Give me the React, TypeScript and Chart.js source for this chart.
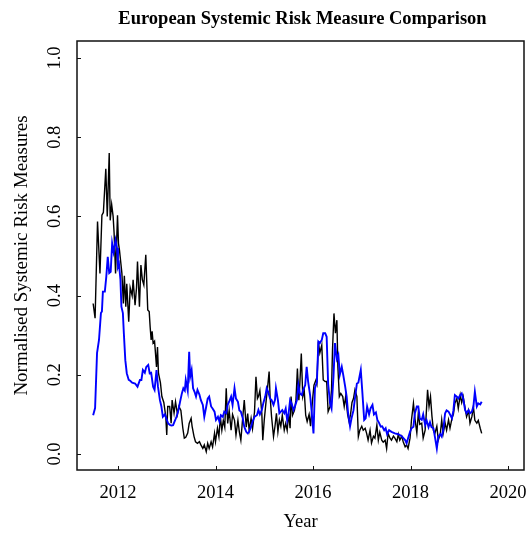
import React, { useEffect, useRef } from "react";
import { Chart, registerables } from "chart.js";

Chart.register(...registerables);

const chartTitle = "European Systemic Risk Measure Comparison";
const xAxisTitle = "Year";
const yAxisTitle = "Normalised Systemic Risk Measures";

const xTicks = [2012, 2014, 2016, 2018, 2020];
const yTicks = [0, 0.2, 0.4, 0.6, 0.8, 1.0];

const blackYears = [
  2011.49, 2011.53, 2011.58, 2011.63, 2011.67, 2011.70, 2011.75, 2011.78, 2011.82, 2011.84,
  2011.87, 2011.90, 2011.92, 2011.95, 2011.99, 2012.01, 2012.03, 2012.06, 2012.08, 2012.11,
  2012.13, 2012.16, 2012.18, 2012.22, 2012.25, 2012.29, 2012.31, 2012.35, 2012.38, 2012.40,
  2012.44, 2012.47, 2012.50, 2012.53, 2012.57, 2012.61, 2012.64, 2012.66, 2012.68, 2012.70,
  2012.72, 2012.75, 2012.79, 2012.81, 2012.83, 2012.87, 2012.90, 2012.94, 2012.98, 2013.00,
  2013.02, 2013.06, 2013.09, 2013.11, 2013.15, 2013.18, 2013.22, 2013.25, 2013.29, 2013.33,
  2013.36, 2013.39, 2013.43, 2013.46, 2013.50, 2013.52, 2013.56, 2013.59, 2013.63, 2013.67,
  2013.70, 2013.74, 2013.77, 2013.81, 2013.84, 2013.87, 2013.91, 2013.94, 2013.98, 2014.00,
  2014.04, 2014.07, 2014.10, 2014.13, 2014.16, 2014.19, 2014.22, 2014.25, 2014.28, 2014.32,
  2014.35, 2014.39, 2014.42, 2014.46, 2014.49, 2014.52, 2014.56, 2014.59, 2014.63, 2014.66,
  2014.69, 2014.73, 2014.76, 2014.80, 2014.83, 2014.86, 2014.88, 2014.91, 2014.95, 2014.97,
  2015.00, 2015.04, 2015.07, 2015.10, 2015.12, 2015.15, 2015.19, 2015.22, 2015.25, 2015.28,
  2015.31, 2015.34, 2015.37, 2015.41, 2015.44, 2015.47, 2015.50, 2015.53, 2015.55, 2015.58,
  2015.62, 2015.65, 2015.68, 2015.71, 2015.73, 2015.76, 2015.79, 2015.82, 2015.85, 2015.88,
  2015.92, 2015.95, 2015.99, 2016.02, 2016.06, 2016.08, 2016.11, 2016.14, 2016.18, 2016.21,
  2016.25, 2016.28, 2016.31, 2016.35, 2016.38, 2016.40, 2016.43, 2016.46, 2016.49, 2016.51,
  2016.54, 2016.57, 2016.61, 2016.64, 2016.67, 2016.71, 2016.74, 2016.77, 2016.80, 2016.83,
  2016.86, 2016.90, 2016.93, 2016.96, 2017.00, 2017.03, 2017.07, 2017.10, 2017.13, 2017.17,
  2017.20, 2017.24, 2017.27, 2017.31, 2017.34, 2017.37, 2017.41, 2017.44, 2017.48, 2017.51,
  2017.54, 2017.58, 2017.61, 2017.65, 2017.68, 2017.72, 2017.75, 2017.78, 2017.82, 2017.85,
  2017.89, 2017.92, 2017.95, 2017.99, 2018.02, 2018.06, 2018.09, 2018.13, 2018.16, 2018.19,
  2018.23, 2018.26, 2018.30, 2018.32, 2018.35, 2018.38, 2018.41, 2018.44, 2018.47, 2018.50,
  2018.54, 2018.57, 2018.61, 2018.64, 2018.67, 2018.71, 2018.74, 2018.78, 2018.81, 2018.85,
  2018.88, 2018.91, 2018.95, 2018.98, 2019.02, 2019.05, 2019.08, 2019.12, 2019.15, 2019.19,
  2019.22, 2019.26, 2019.29, 2019.32, 2019.36, 2019.39, 2019.43, 2019.46,
];

const blackValues = [
  0.38, 0.343, 0.587, 0.456, 0.603, 0.61, 0.72, 0.60, 0.76, 0.59,
  0.63, 0.60, 0.558, 0.456, 0.603, 0.532, 0.515, 0.48, 0.456, 0.38,
  0.45, 0.372, 0.43, 0.334, 0.42, 0.40, 0.44, 0.376, 0.42, 0.486,
  0.372, 0.477, 0.44, 0.427, 0.503, 0.364, 0.36, 0.32, 0.288, 0.31,
  0.28, 0.285, 0.22, 0.27, 0.204, 0.18, 0.145, 0.13, 0.094, 0.048,
  0.12, 0.12, 0.078, 0.136, 0.103, 0.132, 0.10, 0.12, 0.11, 0.065,
  0.04, 0.042, 0.053, 0.077, 0.09, 0.07, 0.044, 0.031, 0.027, 0.031,
  0.023, 0.014, 0.023, 0.006, 0.027, 0.014, 0.031, 0.018, 0.052, 0.031,
  0.065, 0.044, 0.094, 0.06, 0.085, 0.068, 0.166, 0.077, 0.11, 0.06,
  0.10, 0.085, 0.048, 0.085, 0.055, 0.035, 0.094, 0.136, 0.068, 0.102,
  0.06, 0.09, 0.064, 0.106, 0.195, 0.14, 0.145, 0.16, 0.103, 0.035,
  0.086, 0.136, 0.17, 0.208, 0.145, 0.094, 0.044, 0.07, 0.103, 0.056,
  0.086, 0.07, 0.098, 0.06, 0.077, 0.06, 0.103, 0.065, 0.145, 0.098,
  0.11, 0.136, 0.216, 0.136, 0.178, 0.254, 0.145, 0.16, 0.098, 0.082,
  0.10, 0.07, 0.136, 0.174, 0.187, 0.178, 0.284, 0.255, 0.275, 0.187,
  0.183, 0.183, 0.107, 0.12, 0.162, 0.263, 0.355, 0.305, 0.338, 0.22,
  0.145, 0.153, 0.145, 0.12, 0.145, 0.10, 0.082, 0.10, 0.13, 0.14,
  0.162, 0.145, 0.044, 0.06, 0.07, 0.06, 0.065, 0.052, 0.035, 0.06,
  0.028, 0.045, 0.04, 0.073, 0.035, 0.055, 0.035, 0.03, 0.035, 0.014,
  0.052, 0.04, 0.035, 0.045, 0.04, 0.031, 0.05, 0.035, 0.045, 0.031,
  0.018, 0.023, 0.014, 0.04, 0.086, 0.128, 0.09, 0.053, 0.103, 0.075,
  0.078, 0.04, 0.06, 0.095, 0.162, 0.12, 0.145, 0.095, 0.06, 0.052,
  0.07, 0.035, 0.05, 0.086, 0.052, 0.078, 0.06, 0.086, 0.065, 0.09,
  0.10, 0.128, 0.14, 0.115, 0.149, 0.13, 0.145, 0.115, 0.094, 0.11,
  0.078, 0.095, 0.12, 0.085, 0.078, 0.085, 0.065, 0.052,
];

const blueYears = [
  2011.49, 2011.53, 2011.57, 2011.61, 2011.65, 2011.67, 2011.69, 2011.73, 2011.76, 2011.79,
  2011.82, 2011.85, 2011.88, 2011.91, 2011.95, 2011.98, 2012.00, 2012.02, 2012.05, 2012.07,
  2012.10, 2012.12, 2012.15, 2012.18, 2012.22, 2012.25, 2012.29, 2012.35, 2012.40, 2012.45,
  2012.48, 2012.51, 2012.55, 2012.58, 2012.62, 2012.65, 2012.68, 2012.72, 2012.75, 2012.79,
  2012.82, 2012.86, 2012.89, 2012.92, 2012.96, 2012.99, 2013.03, 2013.07, 2013.10, 2013.13,
  2013.17, 2013.20, 2013.24, 2013.27, 2013.31, 2013.34, 2013.37, 2013.39, 2013.43, 2013.46,
  2013.48, 2013.51, 2013.54, 2013.57, 2013.60, 2013.63, 2013.67, 2013.70, 2013.74, 2013.77,
  2013.81, 2013.84, 2013.87, 2013.91, 2013.94, 2013.98, 2014.01, 2014.05, 2014.08, 2014.11,
  2014.15, 2014.18, 2014.22, 2014.25, 2014.28, 2014.32, 2014.35, 2014.39, 2014.42, 2014.46,
  2014.49, 2014.52, 2014.56, 2014.59, 2014.63, 2014.66, 2014.69, 2014.73, 2014.76, 2014.80,
  2014.85, 2014.88, 2014.91, 2014.95, 2014.98, 2015.02, 2015.05, 2015.08, 2015.12, 2015.15,
  2015.19, 2015.22, 2015.24, 2015.28, 2015.31, 2015.34, 2015.37, 2015.41, 2015.44, 2015.47,
  2015.50, 2015.53, 2015.56, 2015.60, 2015.63, 2015.67, 2015.70, 2015.73, 2015.77, 2015.80,
  2015.84, 2015.87, 2015.90, 2015.94, 2015.97, 2016.01, 2016.04, 2016.08, 2016.11, 2016.14,
  2016.18, 2016.21, 2016.25, 2016.28, 2016.31, 2016.35, 2016.38, 2016.42, 2016.45, 2016.49,
  2016.52, 2016.55, 2016.59, 2016.62, 2016.66, 2016.69, 2016.72, 2016.76, 2016.79, 2016.83,
  2016.86, 2016.90, 2016.93, 2016.98, 2017.01, 2017.05, 2017.08, 2017.11, 2017.15, 2017.18,
  2017.22, 2017.25, 2017.29, 2017.32, 2017.35, 2017.39, 2017.42, 2017.46, 2017.49, 2017.52,
  2017.56, 2017.61, 2017.68, 2017.75, 2017.82, 2017.89, 2017.92, 2017.95, 2017.99, 2018.02,
  2018.06, 2018.09, 2018.13, 2018.16, 2018.19, 2018.23, 2018.26, 2018.30, 2018.33, 2018.37,
  2018.40, 2018.43, 2018.47, 2018.50, 2018.54, 2018.57, 2018.61, 2018.64, 2018.67, 2018.71,
  2018.74, 2018.78, 2018.81, 2018.85, 2018.88, 2018.91, 2018.95, 2018.98, 2019.02, 2019.05,
  2019.08, 2019.12, 2019.15, 2019.19, 2019.22, 2019.26, 2019.29, 2019.32, 2019.36, 2019.39,
  2019.43, 2019.46,
];

const blueValues = [
  0.098, 0.116, 0.255, 0.288, 0.356, 0.36, 0.41, 0.41, 0.448, 0.498,
  0.457, 0.46, 0.532, 0.51, 0.54, 0.52, 0.473, 0.48, 0.44, 0.372,
  0.356, 0.305, 0.237, 0.204, 0.187, 0.185, 0.18, 0.178, 0.17, 0.187,
  0.187, 0.212, 0.205, 0.22, 0.225, 0.204, 0.205, 0.17, 0.162, 0.212,
  0.17, 0.136, 0.12, 0.094, 0.10, 0.09, 0.077, 0.073, 0.072, 0.073,
  0.085, 0.094, 0.111, 0.13, 0.153, 0.166, 0.16, 0.187, 0.16, 0.258,
  0.195, 0.212, 0.166, 0.157, 0.145, 0.162, 0.15, 0.136, 0.124, 0.094,
  0.12, 0.14, 0.145, 0.12, 0.115, 0.107, 0.086, 0.094, 0.082, 0.098,
  0.094, 0.107, 0.103, 0.124, 0.132, 0.145, 0.124, 0.166, 0.14, 0.132,
  0.11, 0.107, 0.09, 0.069, 0.056, 0.052, 0.056, 0.069, 0.082, 0.094,
  0.098, 0.111, 0.10, 0.111, 0.128, 0.145, 0.166, 0.157, 0.14, 0.136,
  0.124, 0.136, 0.166, 0.136, 0.103, 0.107, 0.111, 0.103, 0.115, 0.085,
  0.103, 0.136, 0.128, 0.111, 0.12, 0.136, 0.174, 0.153, 0.149, 0.162,
  0.174, 0.22, 0.183, 0.149, 0.111, 0.052, 0.166, 0.182, 0.284, 0.28,
  0.288, 0.305, 0.305, 0.296, 0.178, 0.128, 0.115, 0.195, 0.28, 0.24,
  0.25, 0.20, 0.22, 0.20, 0.17, 0.145, 0.103, 0.07, 0.09, 0.11,
  0.14, 0.178, 0.18, 0.212, 0.16, 0.086, 0.09, 0.12, 0.10, 0.115,
  0.124, 0.10, 0.105, 0.086, 0.08, 0.069, 0.07, 0.06, 0.065, 0.05,
  0.06, 0.056, 0.052, 0.05, 0.045, 0.035, 0.027, 0.04, 0.056, 0.065,
  0.069, 0.103, 0.12, 0.12, 0.09, 0.086, 0.10, 0.073, 0.085, 0.068,
  0.08, 0.068, 0.065, 0.044, 0.014, 0.044, 0.05, 0.044, 0.06, 0.103,
  0.11, 0.107, 0.10, 0.09, 0.11, 0.149, 0.145, 0.14, 0.149, 0.153,
  0.14, 0.111, 0.103, 0.111, 0.103, 0.107, 0.12, 0.157, 0.12, 0.128,
  0.125, 0.132,
];

const FONT = '"Liberation Serif", "DejaVu Serif", serif';
const FONT_SIZE = 18.5;

function toPoints(xs: number[], ys: number[]) {
  const n = Math.min(xs.length, ys.length);
  const out: { x: number; y: number }[] = [];
  for (let i = 0; i < n; i++) out.push({ x: xs[i], y: ys[i] });
  return out;
}

export default function App() {
  const ref = useRef<HTMLCanvasElement>(null);

  useEffect(() => {
    document.body.style.margin = "0";
    const canvas = ref.current;
    if (!canvas) return;

    const framePlugin = {
      id: "rframe",
      afterDraw(chart: any) {
        const { ctx, chartArea: a, scales } = chart;
        const xs = scales.x;
        const ys = scales.y;
        ctx.save();
        ctx.strokeStyle = "#111";
        ctx.lineWidth = 1.5;
        ctx.strokeRect(a.left, a.top, a.right - a.left, a.bottom - a.top);

        ctx.lineWidth = 1;
        ctx.beginPath();
        xTicks.forEach((t) => {
          const px = Math.round(xs.getPixelForValue(t)) + 0.5;
          ctx.moveTo(px, a.bottom);
          ctx.lineTo(px, a.bottom - 4);
        });
        yTicks.forEach((t) => {
          const py = Math.round(ys.getPixelForValue(t)) + 0.5;
          ctx.moveTo(a.left, py);
          ctx.lineTo(a.left + 4, py);
        });
        ctx.stroke();

        ctx.fillStyle = "#000";
        ctx.font = `${FONT_SIZE}px ${FONT}`;
        ctx.textAlign = "center";
        ctx.textBaseline = "alphabetic";
        xTicks.forEach((t) => {
          ctx.fillText(String(t), xs.getPixelForValue(t), 498);
        });
        yTicks.forEach((t) => {
          ctx.save();
          ctx.translate(60, ys.getPixelForValue(t));
          ctx.rotate(-Math.PI / 2);
          ctx.fillText(t.toFixed(1), 0, 0);
          ctx.restore();
        });
        ctx.fillText(xAxisTitle, (a.left + a.right) / 2, 527);
        ctx.save();
        ctx.translate(27, (a.top + a.bottom) / 2);
        ctx.rotate(-Math.PI / 2);
        ctx.font = `19px ${FONT}`;
        ctx.fillText(yAxisTitle, 0, 0);
        ctx.restore();

        ctx.font = `bold ${FONT_SIZE}px ${FONT}`;
        ctx.fillText(chartTitle, (a.left + a.right) / 2 + 2, 24);
        ctx.restore();
      },
    };

    const chart = new Chart(canvas, {
      type: "line",
      data: {
        datasets: [
          {
            label: "Blue measure",
            data: toPoints(blueYears, blueValues),
            borderColor: "#0000ff",
            borderWidth: 1.9,
            pointRadius: 0,
            tension: 0,
            fill: false,
          },
          {
            label: "Black measure",
            data: toPoints(blackYears, blackValues),
            borderColor: "#000000",
            borderWidth: 1.4,
            pointRadius: 0,
            tension: 0,
            fill: false,
          },
        ],
      },
      options: {
        responsive: false,
        maintainAspectRatio: false,
        animation: false,
        devicePixelRatio: 1,
        layout: { padding: { top: 41, right: 4, left: 0, bottom: 0 } },
        plugins: {
          legend: { display: false },
          tooltip: { enabled: false },
          title: { display: false },
        },
        scales: {
          x: {
            type: "linear",
            min: 2011.159,
            max: 2020.328,
            ticks: { display: false },
            grid: { display: false },
            border: { display: false },
            afterFit: (s: any) => {
              s.height = 65;
            },
          },
          y: {
            type: "linear",
            min: -0.0404,
            max: 1.0429,
            ticks: { display: false },
            grid: { display: false },
            border: { display: false },
            afterFit: (s: any) => {
              s.width = 77;
            },
          },
        },
      },
      plugins: [framePlugin],
    } as any);

    return () => {
      chart.destroy();
    };
  }, []);

  return (
    <div style={{ width: 528, height: 535, background: "#fff" }}>
      <canvas ref={ref} width={528} height={535} style={{ display: "block" }} />
    </div>
  );
}
